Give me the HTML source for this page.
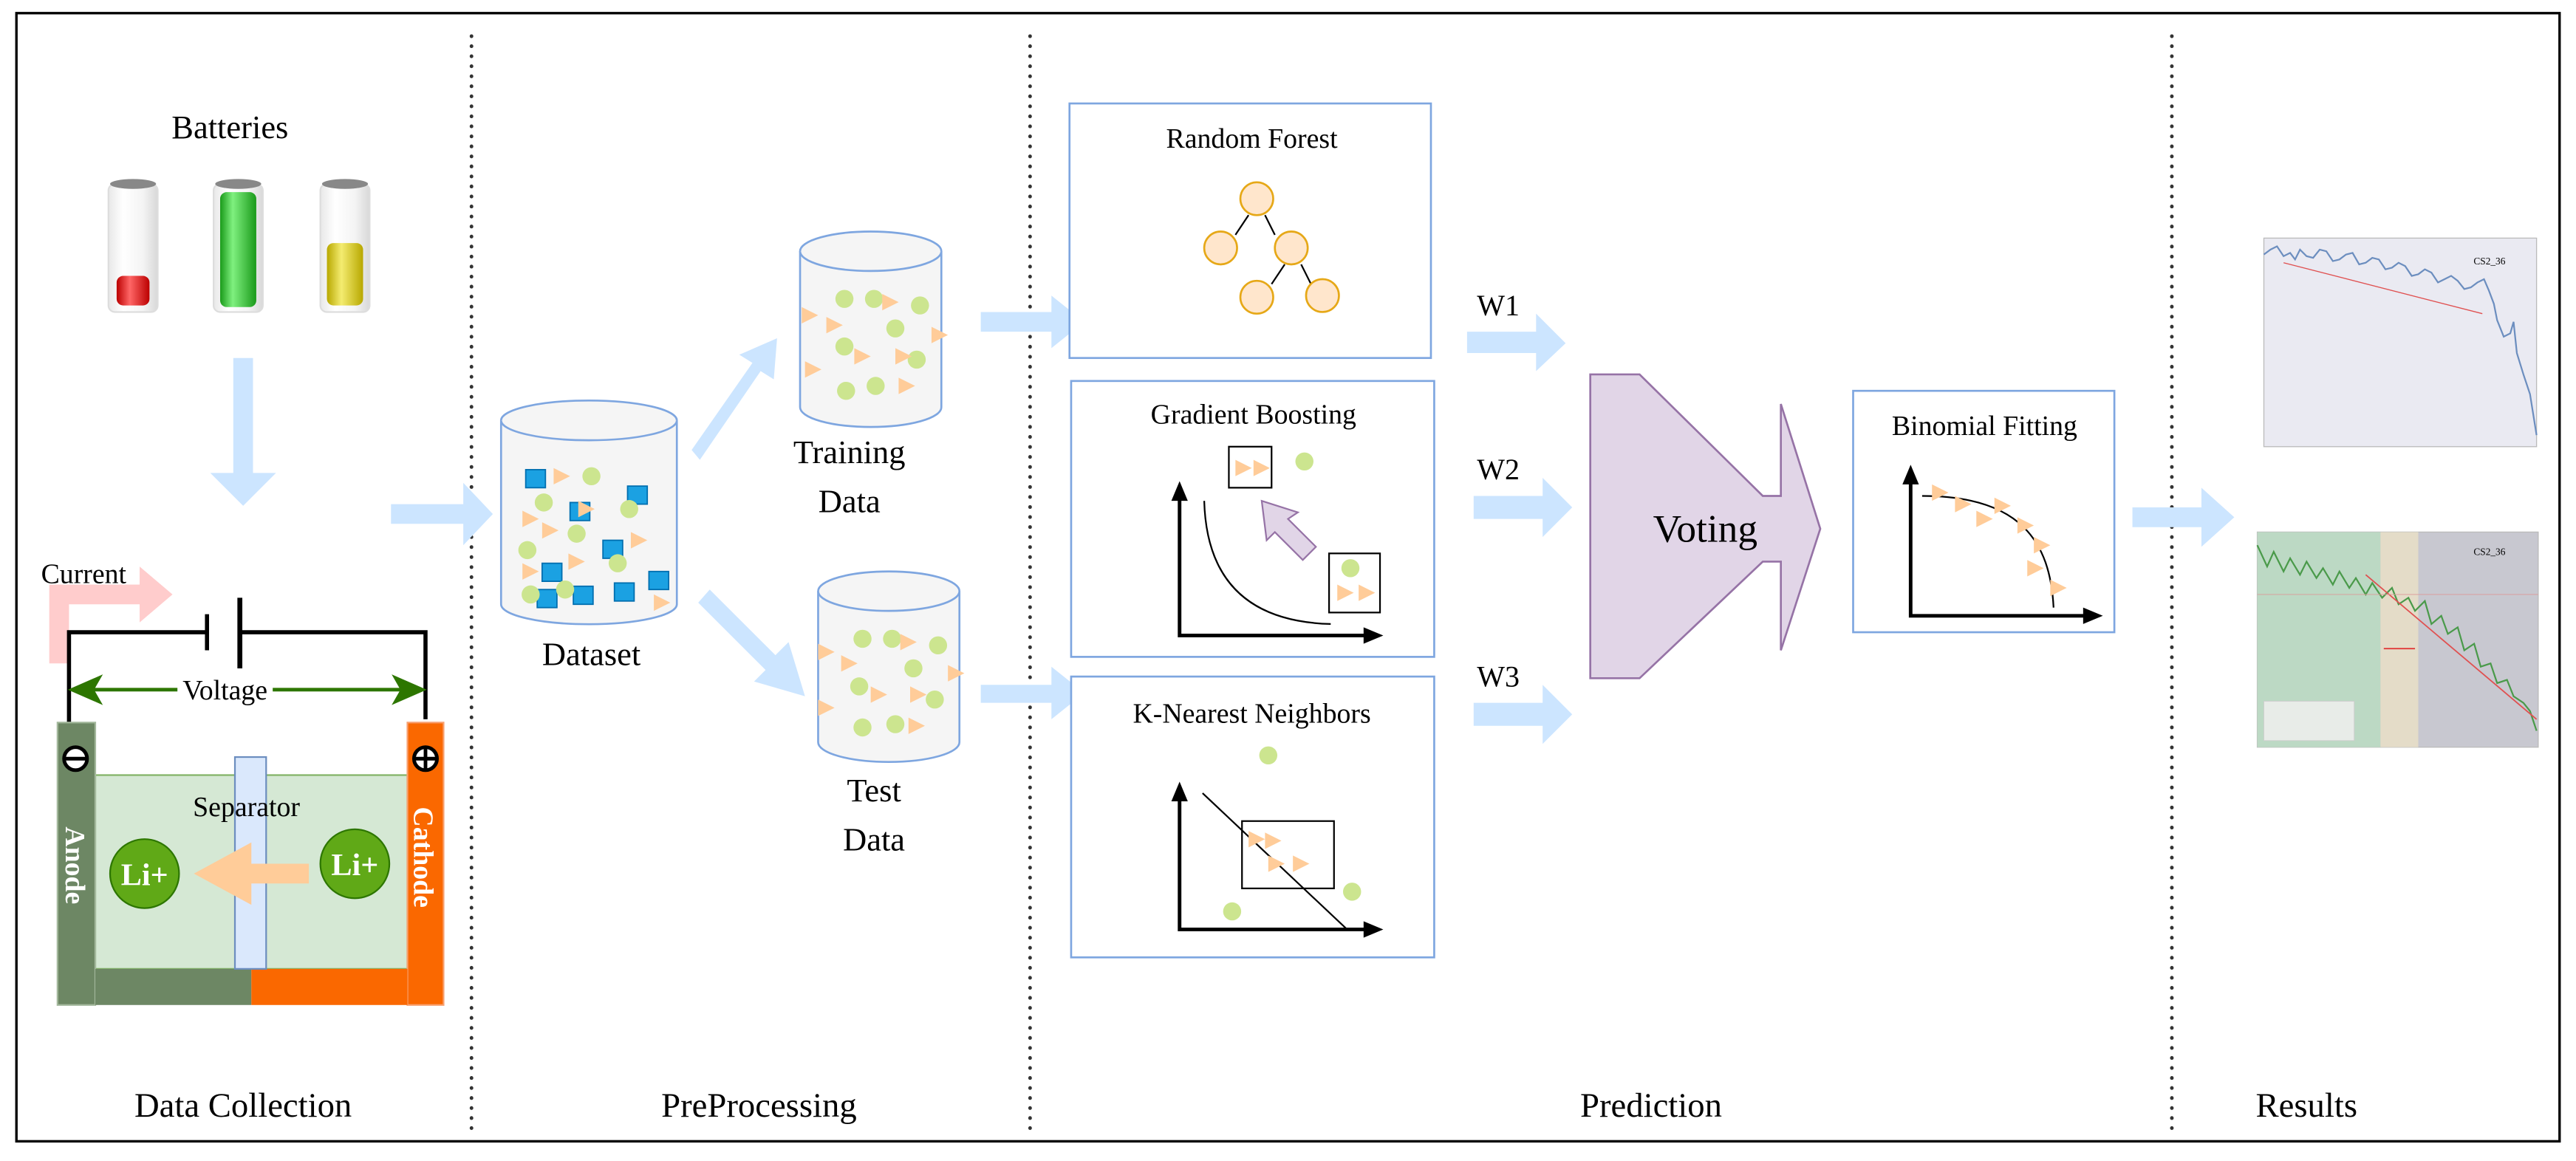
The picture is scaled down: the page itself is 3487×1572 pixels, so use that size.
<!DOCTYPE html>
<html><head><meta charset="utf-8"><style>
html,body{margin:0;padding:0;background:#fff}
svg{display:block}
svg text{font-family:"Liberation Serif","Times New Roman",Times,"DejaVu Serif",serif !important}
</style></head><body>
<svg width="3487" height="1572" viewBox="0 0 1568 707" preserveAspectRatio="none" xmlns="http://www.w3.org/2000/svg">
<defs>
<linearGradient id="glass" x1="0" x2="1">
<stop offset="0" stop-color="#e8e8e8"/><stop offset="0.3" stop-color="#ffffff"/><stop offset="0.7" stop-color="#f4f4f4"/><stop offset="1" stop-color="#d8d8d8"/></linearGradient>
<linearGradient id="gr" x1="0" x2="1"><stop offset="0" stop-color="#1a9a1a"/><stop offset="0.35" stop-color="#7ff07f"/><stop offset="1" stop-color="#1a9a1a"/></linearGradient>
<linearGradient id="ye" x1="0" x2="1"><stop offset="0" stop-color="#b8a800"/><stop offset="0.4" stop-color="#f4ec70"/><stop offset="1" stop-color="#b8a800"/></linearGradient>
<linearGradient id="rd" x1="0" x2="1"><stop offset="0" stop-color="#b00"/><stop offset="0.4" stop-color="#f66"/><stop offset="1" stop-color="#b00"/></linearGradient>
<g id="tri"><polygon points="0,-5 10,0 0,5" fill="#ffcc99"/></g>
<g id="dot"><circle r="5.5" fill="#cce58f"/></g>
</defs>
<rect x="10" y="8" width="1548" height="687" fill="#fff" stroke="#000" stroke-width="1.5"/>
<g stroke="#333" stroke-width="2.2" stroke-dasharray="0.1 6" stroke-linecap="round">
<line x1="287" y1="22" x2="287" y2="690"/><line x1="627" y1="22" x2="627" y2="690"/><line x1="1322" y1="22" x2="1322" y2="690"/>
</g>
<g font-size="21" text-anchor="middle" fill="#000">
<text x="148" y="680">Data Collection</text><text x="462" y="680">PreProcessing</text><text x="1005" y="680">Prediction</text><text x="1404" y="680">Results</text>
</g>
<text x="140" y="84" font-size="20" text-anchor="middle">Batteries</text>
<g>
<rect x="66" y="112" width="30" height="78" rx="4" fill="url(#glass)" stroke="#ddd"/>
<ellipse cx="81" cy="112" rx="14" ry="3" fill="#888"/>
<rect x="71" y="168" width="20" height="18" rx="4" fill="url(#rd)"/>
<rect x="130" y="112" width="30" height="78" rx="4" fill="url(#glass)" stroke="#ddd"/>
<ellipse cx="145" cy="112" rx="14" ry="3" fill="#888"/>
<rect x="134" y="117" width="22" height="70" rx="4" fill="url(#gr)"/>
<rect x="195" y="112" width="30" height="78" rx="4" fill="url(#glass)" stroke="#ddd"/>
<ellipse cx="210" cy="112" rx="14" ry="3" fill="#888"/>
<rect x="199" y="148" width="22" height="38" rx="4" fill="url(#ye)"/>
</g>
<g fill="#cce5ff">
<polygon points="142,218 154,218 154,288 168,288 148,308 128,288 142,288"/>
<polygon points="238,307 282,307 282,294 300,313 282,332 282,319 238,319"/>
<polygon points="597,190 640,190 640,180 660,196 640,212 640,202 597,202"/>
<polygon points="597,417 640,417 640,406 660,422 640,438 640,428 597,428"/>
<polygon points="893,202 935,202 935,191 953,209 935,226 935,215 893,215"/>
<polygon points="897,302 939,302 939,291 957,309 939,327 939,316 897,316"/>
<polygon points="897,428 939,428 939,417 957,435 939,453 939,442 897,442"/>
<polygon points="1298,309 1340,309 1340,297 1360,315 1340,333 1340,321 1298,321"/>
<polygon points="421,274 458,221 450,216 473,206 471,231 463,226 426,280"/>
<polygon points="432,359 472,399 480,391 490,424 459,415 466,408 425,367"/>
</g>
<polygon points="30,404 30,356 85,356 85,345 105,362 85,379 85,368 42,368 42,404" fill="#ffcccc"/>
<text x="25" y="355" font-size="17">Current</text>
<g stroke="#000" stroke-width="2.5" fill="none">
<polyline points="42,440 42,385 126,385"/>
<polyline points="146,385 259,385 259,438"/>
<line x1="126" y1="374" x2="126" y2="396"/><line x1="146" y1="364" x2="146" y2="407" stroke-width="3"/>
</g>
<g stroke="#2d7600" stroke-width="2.2" fill="#2d7600">
<line x1="48" y1="420" x2="252" y2="420"/>
<polygon points="44,420 60,413 56,420 60,427"/><polygon points="257,420 241,413 245,420 241,427"/>
</g>
<rect x="108" y="410" width="58" height="18" fill="#fff"/>
<text x="137" y="426" font-size="17" text-anchor="middle">Voltage</text>
<rect x="58" y="472" width="190" height="118" fill="#d5e8d4" stroke="#82b366"/>
<rect x="35" y="440" width="23" height="172" fill="#6d8764" stroke="#a3b89c"/>
<rect x="248" y="440" width="22" height="172" fill="#fa6800" stroke="#f8a070"/>
<rect x="58" y="590" width="95" height="22" fill="#6d8764"/>
<rect x="153" y="590" width="95" height="22" fill="#fa6800"/>
<rect x="143" y="461" width="19" height="129" fill="#dae8fc" stroke="#6c8ebf"/>
<circle cx="46" cy="462" r="7" fill="#fff" stroke="#000" stroke-width="2.2"/><line x1="39" y1="462" x2="53" y2="462" stroke="#000" stroke-width="2.2"/>
<circle cx="259" cy="462" r="7" fill="#fff" stroke="#000" stroke-width="2.2"/><line x1="252" y1="462" x2="266" y2="462" stroke="#000" stroke-width="2.2"/><line x1="259" y1="455" x2="259" y2="469" stroke="#000" stroke-width="2.2"/>
<text x="150" y="497" font-size="17" text-anchor="middle">Separator</text>
<text transform="translate(40,527) rotate(90)" font-size="17" font-weight="bold" fill="#fff" text-anchor="middle">Anode</text>
<text transform="translate(252,522) rotate(90)" font-size="17" font-weight="bold" fill="#fff" text-anchor="middle">Cathode</text>
<polygon points="188,526 153,526 153,513 118,532 153,551 153,538 188,538" fill="#ffcc99"/>
<circle cx="88" cy="532" r="21" fill="#60a917" stroke="#2d7600"/>
<circle cx="216" cy="526" r="21" fill="#60a917" stroke="#2d7600"/>
<text x="88" y="539" font-size="19" font-weight="bold" fill="#fff" text-anchor="middle">Li+</text>
<text x="216" y="533" font-size="19" font-weight="bold" fill="#fff" text-anchor="middle">Li+</text>
<g fill="#f5f5f5" stroke="#7ea6e0" stroke-width="1.2">
<path d="M305,256 A53,12 0 0 1 412,256 L412,368 A53,12 0 0 1 305,368 Z"/>
<path d="M305,256 A53,12 0 0 0 412,256"/>
<path d="M487,153 A43,12 0 0 1 573,153 L573,248 A43,12 0 0 1 487,248 Z"/>
<path d="M487,153 A43,12 0 0 0 573,153"/>
<path d="M498,360 A43,12 0 0 1 584,360 L584,452 A43,12 0 0 1 498,452 Z"/>
<path d="M498,360 A43,12 0 0 0 584,360"/>
</g>
<g fill="#1ba1e2" stroke="#006eaf" stroke-width="0.8">
<rect x="320" y="286" width="12" height="11"/><rect x="347" y="306" width="12" height="11"/><rect x="382" y="296" width="12" height="11"/>
<rect x="367" y="329" width="12" height="11"/><rect x="330" y="343" width="12" height="11"/><rect x="395" y="348" width="12" height="11"/>
<rect x="327" y="359" width="12" height="11"/><rect x="349" y="357" width="12" height="11"/><rect x="374" y="355" width="12" height="11"/>
</g>
<g>
<use href="#tri" x="337" y="290"/><use href="#tri" x="352" y="310"/><use href="#tri" x="318" y="316"/><use href="#tri" x="330" y="323"/><use href="#tri" x="384" y="329"/><use href="#tri" x="346" y="342"/><use href="#tri" x="318" y="348"/><use href="#tri" x="398" y="367"/>
<use href="#dot" x="360" y="290"/><use href="#dot" x="331" y="306"/><use href="#dot" x="383" y="310"/><use href="#dot" x="351" y="325"/><use href="#dot" x="321" y="335"/><use href="#dot" x="376" y="343"/><use href="#dot" x="323" y="362"/><use href="#dot" x="344" y="359"/>
<use href="#dot" x="514" y="182"/><use href="#dot" x="532" y="182"/><use href="#dot" x="560" y="186"/><use href="#dot" x="545" y="200"/><use href="#dot" x="514" y="211"/><use href="#dot" x="558" y="219"/><use href="#dot" x="515" y="238"/><use href="#dot" x="533" y="235"/>
<use href="#tri" x="537" y="184"/><use href="#tri" x="488" y="192"/><use href="#tri" x="503" y="198"/><use href="#tri" x="567" y="204"/><use href="#tri" x="520" y="217"/><use href="#tri" x="545" y="217"/><use href="#tri" x="490" y="225"/><use href="#tri" x="547" y="235"/>
<use href="#dot" x="525" y="389"/><use href="#dot" x="543" y="389"/><use href="#dot" x="571" y="393"/><use href="#dot" x="556" y="407"/><use href="#dot" x="523" y="418"/><use href="#dot" x="569" y="426"/><use href="#dot" x="525" y="443"/><use href="#dot" x="545" y="441"/>
<use href="#tri" x="548" y="391"/><use href="#tri" x="498" y="397"/><use href="#tri" x="512" y="404"/><use href="#tri" x="577" y="410"/><use href="#tri" x="530" y="423"/><use href="#tri" x="554" y="423"/><use href="#tri" x="498" y="431"/><use href="#tri" x="553" y="442"/>
</g>
<g font-size="20" text-anchor="middle">
<text x="360" y="405">Dataset</text>
<text x="517" y="282">Training</text><text x="517" y="312">Data</text>
<text x="532" y="488">Test</text><text x="532" y="518">Data</text>
</g>
<g fill="#fff" stroke="#7ea6e0" stroke-width="1.2">
<rect x="651" y="63" width="220" height="155"/>
<rect x="652" y="232" width="221" height="168"/>
<rect x="652" y="412" width="221" height="171"/>
<rect x="1128" y="238" width="159" height="147"/>
</g>
<g font-size="17" text-anchor="middle">
<text x="762" y="90">Random Forest</text>
<text x="763" y="258">Gradient Boosting</text>
<text x="762" y="440">K-Nearest Neighbors</text>
<text x="1208" y="265">Binomial Fitting</text>
</g>
<g stroke="#000" stroke-width="1">
<line x1="760" y1="131" x2="752" y2="143"/><line x1="770" y1="131" x2="776" y2="143"/>
<line x1="782" y1="161" x2="774" y2="173"/><line x1="792" y1="161" x2="798" y2="173"/>
</g>
<g fill="#ffe6cc" stroke="#e6a817" stroke-width="1.2">
<circle cx="765" cy="121" r="10"/><circle cx="743" cy="151" r="10"/><circle cx="786" cy="151" r="10"/><circle cx="765" cy="181" r="10"/><circle cx="805" cy="180" r="10"/>
</g>
<g stroke="#000" stroke-width="2.2" fill="none">
<polyline points="718,300 718,387 835,387"/>
<polyline points="718,483 718,566 835,566"/>
<polyline points="1163,290 1163,375 1273,375"/>
</g>
<g fill="#000">
<polygon points="718,293 713,305 723,305"/><polygon points="842,387 830,382 830,392"/>
<polygon points="718,476 713,488 723,488"/><polygon points="842,566 830,561 830,571"/>
<polygon points="1163,283 1158,295 1168,295"/><polygon points="1280,375 1268,370 1268,380"/>
</g>
<path d="M733,305 Q735,378 810,380" stroke="#000" fill="none"/>
<rect x="748" y="272" width="26" height="25" fill="none" stroke="#000"/>
<use href="#tri" x="752" y="285"/><use href="#tri" x="763" y="285"/><use href="#dot" x="794" y="281"/>
<rect x="809" y="337" width="31" height="36" fill="none" stroke="#000"/>
<use href="#dot" x="822" y="346"/><use href="#tri" x="814" y="361"/><use href="#tri" x="827" y="361"/>
<polygon points="768,305 790,312 784,316 801,333 793,341 776,324 771,329" fill="#e1d5e7" stroke="#9673a6"/>
<rect x="756" y="500" width="56" height="41" fill="none" stroke="#000"/>
<line x1="732" y1="483" x2="820" y2="566" stroke="#000"/>
<use href="#tri" x="760" y="511"/><use href="#tri" x="770" y="512"/><use href="#tri" x="772" y="526"/><use href="#tri" x="787" y="526"/>
<use href="#dot" x="772" y="460"/><use href="#dot" x="823" y="543"/><use href="#dot" x="750" y="555"/>
<path d="M1170,302 C1230,302 1248,330 1250,370" stroke="#000" fill="none"/>
<use href="#tri" x="1176" y="300"/><use href="#tri" x="1190" y="307"/><use href="#tri" x="1203" y="316"/><use href="#tri" x="1214" y="308"/><use href="#tri" x="1228" y="320"/><use href="#tri" x="1238" y="332"/><use href="#tri" x="1234" y="346"/><use href="#tri" x="1248" y="358"/>
<g font-size="18" text-anchor="middle"><text x="912" y="192">W1</text><text x="912" y="292">W2</text><text x="912" y="418">W3</text></g>
<polygon points="968,228 998,228 1073,302 1084,302 1084,246 1108,322 1084,396 1084,342 1073,342 998,413 968,413" fill="#e1d5e7" stroke="#9673a6" stroke-width="1.2"/>
<text x="1038" y="330" font-size="24" text-anchor="middle">Voting</text>
<rect x="1378" y="145" width="166" height="127" fill="#eaeaf2" stroke="#bbb" stroke-width="0.6"/>
<polyline points="1378,155 1382,152 1386,150 1390,156 1394,154 1397,158 1400,152 1404,156 1408,157 1412,152 1416,153 1420,159 1424,158 1428,155 1432,154 1436,161 1440,160 1444,157 1448,158 1452,164 1456,163 1460,160 1464,162 1468,168 1472,167 1476,164 1480,166 1484,172 1488,170 1492,168 1496,171 1500,176 1504,175 1508,172 1512,170 1515,177 1518,185 1520,195 1524,205 1528,203 1530,196 1532,215 1536,228 1540,240 1544,265" stroke="#6c8ebf" fill="none" stroke-width="1"/>
<line x1="1390" y1="160" x2="1511" y2="191" stroke="#e05050" stroke-width="0.6"/>
<text x="1525" y="161" font-size="6" text-anchor="end">CS2_36</text>
<rect x="1374" y="324" width="171" height="131" fill="#c8c8d0" stroke="#bbb" stroke-width="0.6"/>
<rect x="1374" y="324" width="75" height="131" fill="#bcd9c4"/>
<rect x="1449" y="324" width="23" height="131" fill="#e4dcc8"/>
<polyline points="1374,332 1380,345 1384,336 1390,348 1394,340 1400,350 1404,342 1410,352 1414,346 1420,356 1424,348 1430,358 1434,352 1440,362 1444,355 1450,364 1456,358 1460,368 1466,364 1470,372 1476,366 1480,380 1486,375 1490,386 1496,382 1500,396 1506,392 1510,406 1516,404 1520,416 1526,414 1530,424 1536,428 1540,433 1544,445" stroke="#4a9a4a" fill="none" stroke-width="1"/>
<line x1="1440" y1="350" x2="1544" y2="438" stroke="#e05050" stroke-width="0.8"/>
<line x1="1374" y1="362" x2="1545" y2="362" stroke="#d99" stroke-width="0.4"/>
<line x1="1451" y1="395" x2="1470" y2="395" stroke="#e03030" stroke-width="0.8"/>
<rect x="1378" y="427" width="55" height="24" fill="#e8ece8" stroke="#ccc" stroke-width="0.4"/>
<text x="1525" y="338" font-size="6" text-anchor="end">CS2_36</text>
</svg>
</body></html>
